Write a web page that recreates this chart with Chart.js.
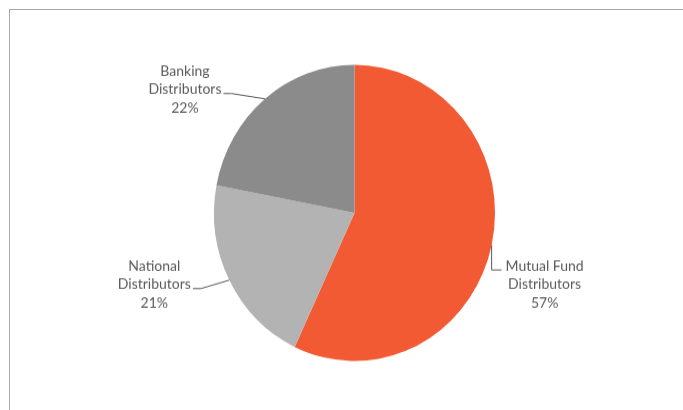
<!DOCTYPE html>
<html>
<head>
<meta charset="utf-8">
<script src="https://cdn.jsdelivr.net/npm/chart.js@4.4.0/dist/chart.umd.min.js"></script>
<style>
  html, body { margin: 0; padding: 0; background: #fff; overflow: hidden; }
  #frame {
    position: absolute; left: 9px; top: 9px; width: 700px; height: 420px;
    border-left: 1px solid #a6a6a6; border-top: 1px solid #a6a6a6;
  }
  /* the pie is drawn slightly taller than wide */
  #wrap {
    position: absolute; left: 0; top: 0; width: 683px; height: 389px;
    transform: scaleY(1.054); transform-origin: 0 0;
  }
</style>
</head>
<body>
<div id="frame"></div>
<div id="wrap"><canvas id="pie" width="683" height="389"></canvas></div>
<script>
const categories = ["Mutual Fund Distributors", "National Distributors", "Banking Distributors"];
const labelLines = [["Mutual Fund", "Distributors"], ["National", "Distributors"], ["Banking", "Distributors"]];
const shares = [57, 21, 22];
const sliceColors = ["#f15a32", "#b3b3b3", "#8b8b8b"];

// where each label block sits, measured from the slice's outer midpoint
const labelPlacement = [
  { dx: 53, dy: 37, side: "right" },
  { dx: -75, dy: 4, side: "left" },
  { dx: -80, dy: -9, side: "left" },
];

const FONT = "14px Lato";
const LINE_H = 17.5;
const TEXT_COLOR = "#595959";

const outsideLabels = {
  id: "outsideLabels",
  afterDatasetsDraw(chart) {
    const ctx = chart.ctx;
    const meta = chart.getDatasetMeta(0);
    ctx.save();
    ctx.font = FONT;
    ctx.fillStyle = TEXT_COLOR;
    ctx.strokeStyle = TEXT_COLOR;
    ctx.lineWidth = 1;
    ctx.textAlign = "center";
    ctx.textBaseline = "middle";
    meta.data.forEach((arc, i) => {
      const mid = (arc.startAngle + arc.endAngle) / 2;
      const ex = arc.x + Math.cos(mid) * arc.outerRadius;
      const ey = arc.y + Math.sin(mid) * arc.outerRadius;
      const p = labelPlacement[i];
      const cx = ex + p.dx;
      const cy = ey + p.dy;
      const lines = [...labelLines[i], shares[i] + "%"];
      const widths = lines.map(t => ctx.measureText(t).width);
      const top = cy - LINE_H;
      lines.forEach((t, k) => ctx.fillText(t, cx, top + k * LINE_H));

      ctx.beginPath();
      if (p.side === "right") {
        const x0 = cx - widths[0] / 2 - 4;
        const y0 = top + 4;
        ctx.moveTo(ex, ey);
        ctx.lineTo(ex, y0);
        ctx.lineTo(x0, y0);
      } else {
        const x0 = cx + widths[1] / 2 + 2;
        const y0 = cy + 4;
        ctx.moveTo(x0, y0);
        ctx.lineTo(x0 + 8, y0);
        ctx.lineTo(ex, ey);
      }
      ctx.stroke();
    });
    ctx.restore();
  }
};

new Chart(document.getElementById("pie"), {
  type: "pie",
  data: {
    labels: categories,
    datasets: [{
      data: shares,
      backgroundColor: sliceColors,
      borderWidth: 0,
    }],
  },
  options: {
    responsive: false,
    animation: false,
    layout: { padding: { top: 61, bottom: 46, left: 214, right: 188 } },
    plugins: {
      legend: { display: false },
      tooltip: { enabled: false },
    },
  },
  plugins: [outsideLabels],
});
</script>
</body>
</html>
